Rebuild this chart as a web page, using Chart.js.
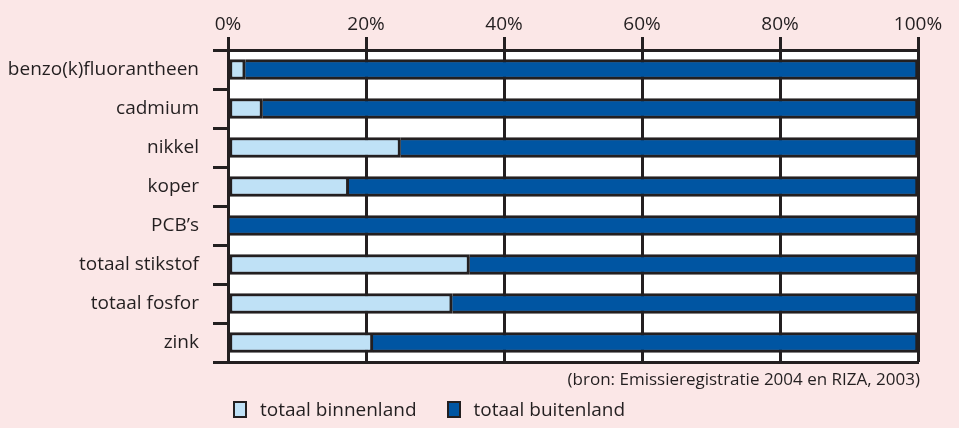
<!DOCTYPE html>
<html>
<head>
<meta charset="utf-8">
<script src="https://cdn.jsdelivr.net/npm/chart.js@4"></script>
<style>
    html, body { margin: 0; padding: 0; background: #fbe7e7; }
    #wrap { position: relative; width: 959px; height: 428px; font-family: "Open Sans", sans-serif; color: #231f20; }
    #bron { position: absolute; right: 39px; top: 367px; font-size: 17px; line-height: 24px; }
    #legend { position: absolute; left: 233px; top: 396px; font-size: 19px; line-height: 26px; display: flex; align-items: center; }
    .box { display: inline-block; box-sizing: border-box; width: 14px; height: 17px; border: 2px solid #231f20; margin-right: 13px; }
    .item { display: flex; align-items: center; margin-right: 30px; }
</style>
</head>
<body>
<div id="wrap">
    <canvas id="chart" width="959" height="428"></canvas>
    <div id="bron">(bron: Emissieregistratie 2004 en RIZA, 2003)</div>
    <div id="legend"></div>
</div>
<script>
const categories = ['benzo(k)fluorantheen', 'cadmium', 'nikkel', 'koper', 'PCB\u2019s', 'totaal stikstof', 'totaal fosfor', 'zink'];
const binnenland = [2.5, 5, 25, 17.5, 0, 35, 32.5, 21];
const buitenland = [97.5, 95, 75, 82.5, 100, 65, 67.5, 79];
const seriesNames = ['totaal binnenland', 'totaal buitenland'];
const seriesColors = ['#bfe1f6', '#0055a2'];
const xTicks = [0, 20, 40, 60, 80, 100];

const ink = '#231f20';
const labelFont = { family: '"Open Sans", sans-serif', size: 19 };

const background = {
    id: 'background',
    beforeDraw(chart) {
        const { ctx, chartArea: a } = chart;
        ctx.save();
        ctx.fillStyle = '#fbe7e7';
        ctx.fillRect(0, 0, chart.width, chart.height);
        ctx.fillStyle = '#ffffff';
        ctx.fillRect(a.left, a.top, a.right - a.left, a.bottom - a.top);
        ctx.restore();
    }
};

new Chart(document.getElementById('chart'), {
    type: 'bar',
    data: {
        labels: categories,
        datasets: [
            { label: seriesNames[0], data: binnenland, backgroundColor: seriesColors[0], borderColor: ink, borderWidth: 3, borderSkipped: false },
            { label: seriesNames[1], data: buitenland, backgroundColor: seriesColors[1], borderColor: ink, borderWidth: 3, borderSkipped: 'start' }
        ]
    },
    options: {
        indexAxis: 'y',
        responsive: false,
        animation: false,
        barThickness: 20,
        layout: { padding: { left: 0, right: 41, top: 0, bottom: 66 } },
        plugins: { legend: { display: false }, tooltip: { enabled: false } },
        scales: {
            x: {
                position: 'top', stacked: true, min: 0, max: 100,
                afterBuildTicks: s => { s.ticks = xTicks.map(v => ({ value: v })); },
                afterFit: s => { s.height = 50; },
                ticks: { callback: v => v + '%', color: ink, font: labelFont, padding: 1, maxRotation: 0 },
                grid: { color: ink, lineWidth: 3, tickLength: 13 },
                border: { display: true, color: ink, width: 3 }
            },
            x2: {
                position: 'bottom', min: 0, max: 100,
                afterFit: s => { s.height = 0; },
                ticks: { display: false },
                grid: { display: false },
                border: { display: true, color: ink, width: 3 }
            },
            y: {
                stacked: true, offset: true,
                afterFit: s => { s.width = 228; },
                ticks: { color: ink, font: labelFont, padding: 14 },
                grid: { offset: true, drawOnChartArea: false, color: ink, lineWidth: 3, tickLength: 15 },
                border: { display: true, color: ink, width: 3 }
            }
        }
    },
    plugins: [background]
});

document.getElementById('legend').innerHTML = seriesNames.map((n, i) =>
    `<span class="item"><span class="box" style="background:${seriesColors[i]}"></span>${n}</span>`).join('');
</script>
</body>
</html>
